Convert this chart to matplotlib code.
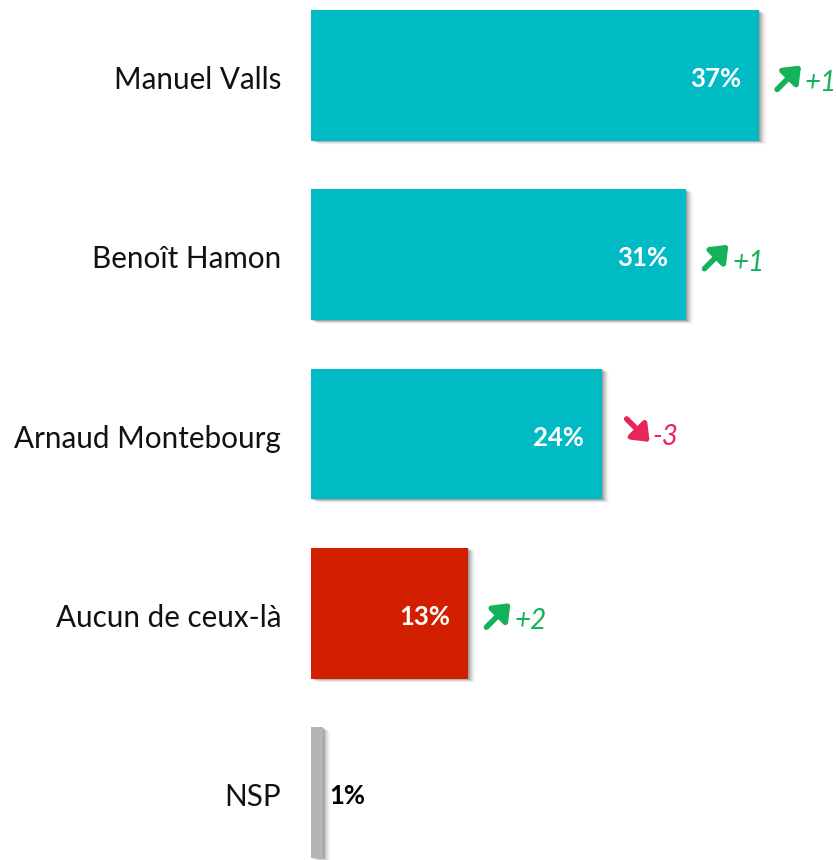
import numpy as np
import matplotlib
matplotlib.use('Agg')
import matplotlib.pyplot as plt
from matplotlib.transforms import offset_copy

labels = ['Manuel Valls', 'Benoît Hamon', 'Arnaud Montebourg', 'Aucun de ceux-là', 'NSP']
values = [37, 31, 24, 13, 1]
changes = ['+1', '+1', '-3', '+2', '']
colors = ['#00BAC4', '#00BAC4', '#00BAC4', '#D11F00', '#B5B5B5']
up_col = '#14B35A'
down_col = '#E8255A'

plt.rcParams['font.family'] = ['Lato', 'DejaVu Sans']

fig = plt.figure(figsize=(8.37, 8.6), dpi=100)
ax = fig.add_axes([311 / 837, 0, 526 / 837, 1])
ax.set_xlim(0, 526 / 12.11)
ax.set_ylim(4.377, -0.421)
ax.axis('off')

y = np.arange(len(values))
h = 0.73

# soft shadow
for k, a in zip(range(1, 9), [0.10, 0.09, 0.08, 0.06, 0.045, 0.03, 0.02, 0.01]):
    tr = offset_copy(ax.transData, fig, x=k, y=-k * 0.5, units='dots')
    ax.barh(y, values, height=h, color='black', alpha=a, transform=tr, zorder=1)
ax.barh(y, values, height=h, color=colors, zorder=2)

for i, (lab, v, ch) in enumerate(zip(labels, values, changes)):
    fig.text(281 / 837, 1 - (80 + i * 179.25) / 860, lab, ha='right', va='center',
             fontsize=21.3, color='#111111')
    if v > 5:
        ax.text(v - 1.5, i + 0.02, f'{v}%', ha='right', va='center', color='white',
                fontsize=18.5, fontweight='bold', zorder=3)
    else:
        ax.text(v + 0.5, i + 0.02, f'{v}%', ha='left', va='center', color='black',
                fontsize=18.5, fontweight='bold', zorder=3)
    if ch:
        up = ch.startswith('+')
        c = up_col if up else down_col
        if up:
            p0 = offset_copy(ax.transData, fig, x=18, y=-14, units='dots')
            p1 = offset_copy(ax.transData, fig, x=42, y=10, units='dots')
        else:
            p0 = offset_copy(ax.transData, fig, x=25, y=15, units='dots')
            p1 = offset_copy(ax.transData, fig, x=48, y=-8, units='dots')
        ax.annotate('', xy=(v, i), xycoords=p1, xytext=(v, i), textcoords=p0,
                    arrowprops=dict(arrowstyle='-|>,head_length=0.38,head_width=0.3',
                                    color=c, lw=4, mutation_scale=24,
                                    shrinkA=0, shrinkB=0))
        tt = offset_copy(ax.transData, fig, x=46 if up else 51, y=-8 if up else -3, units='dots')
        ax.text(v, i, ch, transform=tt, ha='left', va='center', color=c,
                fontsize=20, fontstyle='italic')

fig.savefig('out.png', dpi=100)
